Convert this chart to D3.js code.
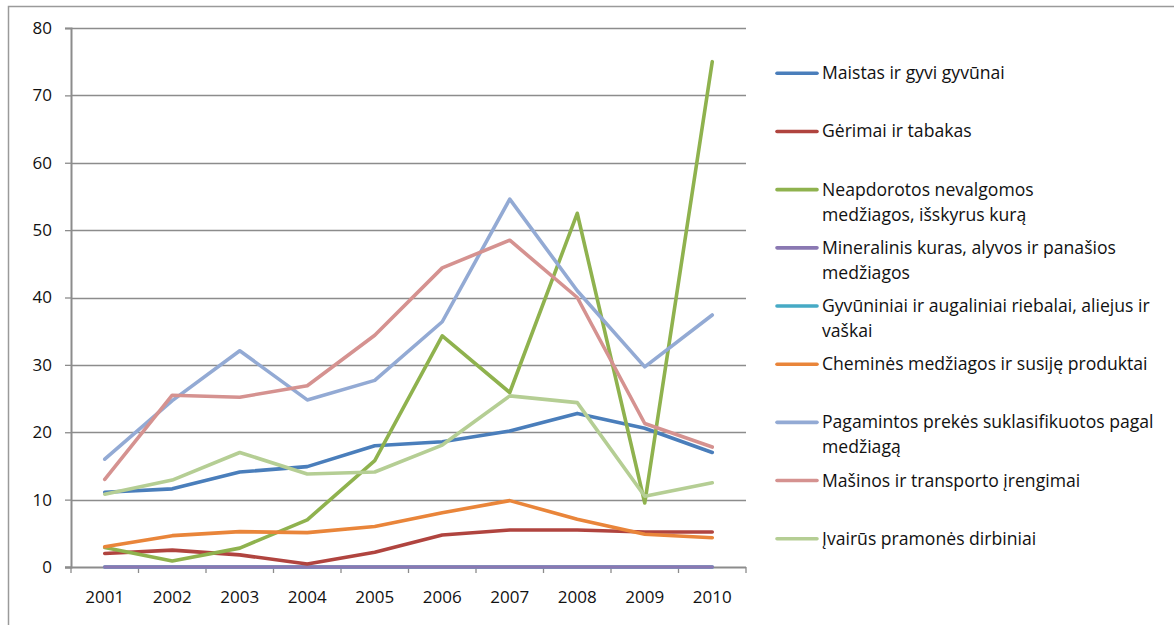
<!DOCTYPE html>
<html>
<head>
<meta charset="utf-8">
<script src="https://cdn.jsdelivr.net/npm/d3@7"></script>
<style>
  html, body { margin: 0; padding: 0; background: #fff; }
  svg { display: block; }
  text { font-family: "Open Sans", Lato, sans-serif; fill: #111; }
</style>
</head>
<body>
<svg id="chart" width="1174" height="625"></svg>
<script>
// ---- data ----
const years = ["2001","2002","2003","2004","2005","2006","2007","2008","2009","2010"];
const yTicks = [0,10,20,30,40,50,60,70,80];

const seriesNames = [
  "Maistas ir gyvi gyvūnai",
  "Gėrimai ir tabakas",
  "Neapdorotos nevalgomos medžiagos, išskyrus kurą",
  "Mineralinis kuras, alyvos ir panašios medžiagos",
  "Gyvūniniai ir augaliniai riebalai, aliejus ir vaškai",
  "Cheminės medžiagos ir susiję produktai",
  "Pagamintos prekės suklasifikuotos pagal medžiagą",
  "Mašinos ir transporto įrengimai",
  "Įvairūs pramonės dirbiniai"
];
// legend text split into lines as in the reference
const legendLines = [
  ["Maistas ir gyvi gyvūnai"],
  ["Gėrimai ir tabakas"],
  ["Neapdorotos nevalgomos", "medžiagos, išskyrus kurą"],
  ["Mineralinis kuras, alyvos ir panašios", "medžiagos"],
  ["Gyvūniniai ir augaliniai riebalai, aliejus ir", "vaškai"],
  ["Cheminės medžiagos ir susiję produktai"],
  ["Pagamintos prekės suklasifikuotos pagal", "medžiagą"],
  ["Mašinos ir transporto įrengimai"],
  ["Įvairūs pramonės dirbiniai"]
];
const seriesColors = ["#4A7EBB","#B0443F","#8FB24E","#8A78B2","#46AAC5","#E9853A","#93AAD4","#D59290","#B5CE94"];
// drawing order (purple baseline drawn above the aqua one, as in the reference)
const drawOrder = [4, 3, 0, 1, 2, 5, 6, 7, 8];

const maistas     = [11.1, 11.6, 14.1, 14.9, 18.0, 18.6, 20.2, 22.8, 20.6, 17.0];
const gerimai     = [2.0, 2.5, 1.8, 0.45, 2.2, 4.75, 5.5, 5.5, 5.2, 5.2];
const neapdorotos = [2.9, 0.9, 2.8, 7.0, 15.8, 34.3, 25.9, 52.5, 9.5, 75.0];
const mineralinis = [0, 0, 0, 0, 0, 0, 0, 0, 0, 0];
const gyvunininiai= [0, 0, 0, 0, 0, 0, 0, 0, 0, 0];
const chemines    = [3.0, 4.65, 5.25, 5.1, 6.0, 8.05, 9.85, 7.1, 4.85, 4.35];
const pagamintos  = [16.0, 24.7, 32.1, 24.8, 27.7, 36.4, 54.6, 41.0, 29.7, 37.4];
const masinos     = [13.0, 25.5, 25.2, 26.9, 34.4, 44.4, 48.5, 40.0, 21.3, 17.8];
const ivairus     = [10.8, 12.9, 17.0, 13.8, 14.1, 18.1, 25.4, 24.4, 10.5, 12.5];

const seriesValues = [maistas, gerimai, neapdorotos, mineralinis, gyvunininiai, chemines, pagamintos, masinos, ivairus];

// ---- layout ----
const svg = d3.select("#chart");
const plot = {left: 71, right: 746, top: 28, bottom: 567};
const FONT = '"Open Sans", Lato, sans-serif';

// outer chart border (only top and left visible in the reference)
svg.append("rect")
  .attr("x", 8.5).attr("y", 6.5)
  .attr("width", 1200).attr("height", 700)
  .attr("fill", "none").attr("stroke", "#9a9a9a").attr("stroke-width", 1.5);

const x = d3.scaleBand().domain(years).range([plot.left, plot.right]);
const y = d3.scaleLinear().domain([0, 80]).range([plot.bottom, plot.top]);

// gridlines
svg.append("g").selectAll("line").data(yTicks.filter(d => d > 0)).join("line")
  .attr("x1", plot.left).attr("x2", plot.right)
  .attr("y1", d => Math.round(y(d)) + 0.5).attr("y2", d => Math.round(y(d)) + 0.5)
  .attr("stroke", "#8c8c8c").attr("stroke-width", 1.3);

// y axis
const yAxis = svg.append("g").attr("transform", `translate(${plot.left},0)`)
  .call(d3.axisLeft(y).tickValues(yTicks).tickSize(6).tickPadding(13));
yAxis.select(".domain").attr("stroke", "#8c8c8c").attr("stroke-width", 2);
yAxis.selectAll(".tick line").attr("stroke", "#8c8c8c").attr("stroke-width", 1.3);
yAxis.selectAll(".tick text").attr("font-size", 17).attr("font-family", FONT).attr("fill", "#111");

// x axis: labels at band centres, ticks at band boundaries
const xAxis = svg.append("g").attr("transform", `translate(0,${plot.bottom})`)
  .call(d3.axisBottom(x).tickSize(0).tickPadding(24));
xAxis.select(".domain").remove();
xAxis.selectAll(".tick text").attr("font-size", 17).attr("font-family", FONT).attr("fill", "#111");

const boundaries = years.map(d => x(d)).concat([x(years[years.length-1]) + x.bandwidth()]);
svg.append("g").selectAll("line").data(boundaries).join("line")
  .attr("x1", d => d).attr("x2", d => d)
  .attr("y1", plot.bottom).attr("y2", plot.bottom + 6)
  .attr("stroke", "#8c8c8c").attr("stroke-width", 1.3);
svg.append("line")
  .attr("x1", plot.left - 6).attr("x2", plot.right)
  .attr("y1", plot.bottom + 0.5).attr("y2", plot.bottom + 0.5)
  .attr("stroke", "#8c8c8c").attr("stroke-width", 2);

// lines
const line = d3.line()
  .x((d, i) => x(years[i]) + x.bandwidth() / 2)
  .y(d => y(d));

svg.append("g").selectAll("path").data(drawOrder).join("path")
  .attr("d", k => line(seriesValues[k]))
  .attr("fill", "none")
  .attr("stroke", k => seriesColors[k])
  .attr("stroke-width", 3.6)
  .attr("stroke-linejoin", "round")
  .attr("stroke-linecap", "round");

// legend
const legendY = d3.scaleLinear().domain([0, 8]).range([73.3, 538.7]);
const lg = svg.append("g");
legendLines.forEach((lines, i) => {
  const cy = legendY(i);
  lg.append("line")
    .attr("x1", 777).attr("x2", 817)
    .attr("y1", cy).attr("y2", cy)
    .attr("stroke", seriesColors[i]).attr("stroke-width", 3.6)
    .attr("stroke-linecap", "round");
  const t = lg.append("text")
    .attr("x", 822).attr("y", cy + 6)
    .attr("font-size", 17.6).attr("font-family", FONT);
  lines.forEach((s, j) => {
    t.append("tspan").attr("x", 822).attr("dy", j === 0 ? 0 : 25).text(s);
  });
});
</script>
</body>
</html>
